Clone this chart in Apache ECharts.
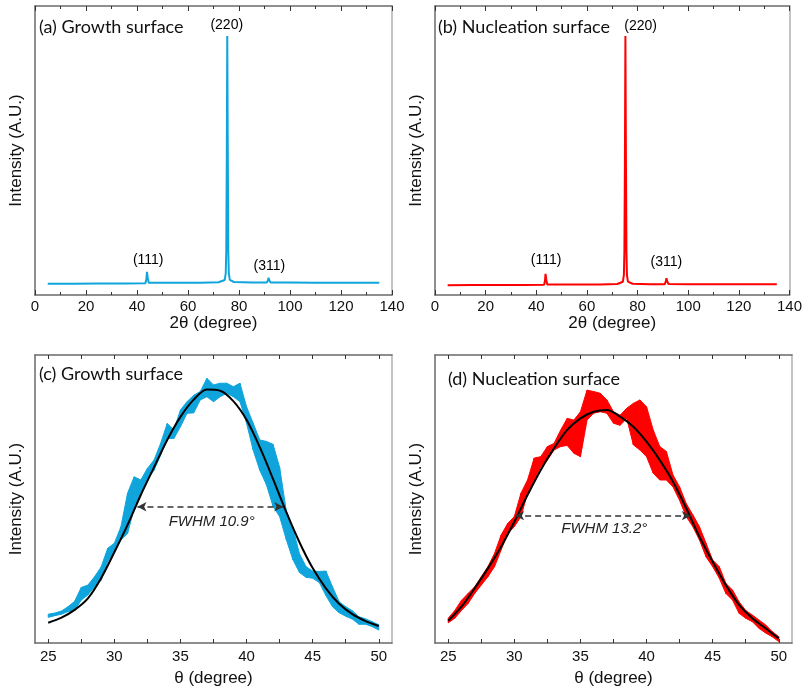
<!DOCTYPE html>
<html><head><meta charset="utf-8">
<script src="https://cdn.jsdelivr.net/npm/echarts@6/dist/echarts.min.js"></script>
<style>html,body{margin:0;padding:0;background:#fff}#c{width:805px;height:691px}</style>
</head><body><div id="c"></div>
<script>
// ---------- data ----------
// (a) XRD, growth surface
var xrdTwoThetaA = [5,15,25,35,43.3,43.7,43.9,44.2,44.6,55,65,72,74.4,74.8,75.0,75.2,75.4,75.6,75.8,76.0,76.4,78,85,90.9,91.4,91.6,91.9,92.4,100,110,120,135];
var xrdIntensityA = [3.9,3.9,4.0,4.0,4.1,5.6,8.0,6.0,4.2,4.2,4.2,4.4,5.2,7.5,15,45,89.6,50,15,7.5,5.2,4.5,4.3,4.3,5.2,6.0,5.0,4.3,4.3,4.2,4.2,4.2];
// (b) XRD, nucleation surface
var xrdTwoThetaB = [5,15,25,35,43.1,43.45,43.65,43.95,44.35,55,65,72,74.2,74.6,74.8,75.0,75.2,75.4,75.6,75.8,76.2,78,85,90.7,91.2,91.4,91.7,92.2,100,110,120,135];
var xrdIntensityB = [3.4,3.45,3.5,3.5,3.55,5.0,7.3,5.3,3.6,3.6,3.6,3.8,4.6,7,15,45,89.6,48,15,7,4.6,3.9,3.7,3.7,4.8,5.8,4.8,3.8,3.7,3.7,3.7,3.7];
var peakNames = ['(111)','(220)','(311)'];
var peakLabelA = [[44.4,12.1],[75.2,93.4],[91.9,10.1]];
var peakLabelB = [[43.9,12.1],[81.2,93.1],[91.4,11.2]];

// rocking curves, theta grid
var theta = [25,25.5,26,26.5,27,27.5,28,28.5,29,29.5,30,30.5,31,31.5,32,32.5,33,33.5,34,34.5,35,35.5,36,36.5,37,37.5,38,38.5,39,39.5,40,40.5,41,41.5,42,42.5,43,43.5,44,44.5,45,45.5,46,46.5,47,47.5,48,48.5,49,49.5,50];
// (c) measured envelope (low / high)
var lowC  = [8.9,9.5,10.0,10.9,11.3,14.9,16.7,19.5,21.8,28.3,31.7,35.8,38,46.8,51.4,56.6,60,65.2,71,71,75.1,79.8,79.9,84.4,85.5,83.8,85.5,86.7,85.5,83.8,76.3,67,60,55,47.5,43.9,36,29,24.5,22.8,22.5,21,16.5,12.6,10.5,9.3,8.3,6.5,6.5,5.7,4.5];
var highC = [10.0,10.4,11.1,12.6,14.5,19.3,20.1,23,26.4,32.9,34.6,40.4,52,57.7,56.6,60.6,63.5,69.3,76.2,74,80.9,83.8,86,87.3,91.9,89.6,90.2,90.2,89,90.2,82,76.3,70.5,70,69,61,46,40,31,26.5,25,24.8,25,19.5,14.3,12.6,11.2,9.1,8.4,7.4,6.3];
// (d) measured envelope (low / high)
var lowD  = [7.0,8.6,11.3,13.7,17.2,20.1,23,26.5,32.3,38,40.4,43.9,52,56.6,61.2,63.5,67,68.2,68.6,65.9,64.7,77.4,79.8,80.3,79.8,76.3,75.6,78,68.8,67,64.7,59,56.6,56.6,54.2,49.5,43.9,40.4,35.8,29.9,26.5,22.5,17.2,14.9,10.3,8.6,7.4,5.1,3.5,2.2,0.5];
var highD = [8.6,11.3,14.8,17.2,19.5,23,26.5,31.1,37.5,41.5,43.9,52,56.6,64.2,64.7,68.2,69.3,73.9,78,77.4,80.3,87.8,87.3,86.7,84.4,80.3,79.1,81.5,83.2,84.4,82,74,68.2,66.5,58.3,54.2,48.4,44.5,40.4,34.6,28.8,26.5,20.7,18.4,14.3,11.3,9.7,8,6.3,4,2.2];
// fits
var fitTheta = [25,26,27,28,29,30,31,32,33,34,35,36,37,38,39,40,41,42,43,44,45,46,47,48,49,50];
var fitC = [7.05,8.8,11.5,15.5,22.5,31.5,41,51.4,61,70.5,78.5,84.5,88,87.6,84,77.5,68,57,45.5,35,26,19,13.6,10,7.6,5.9];
var fitD = [7.7,12.6,19,25.9,33.4,42.1,51.4,60.1,67.6,74,78,80.3,80.9,78.6,75.1,69.9,63.5,56,46.8,36.9,28.2,20.1,13.2,8.6,5.1,1.6];
// FWHM annotations: [theta start, theta end, level]
var fwhmC = [31.75, 42.77, 47.3];
var fwhmD = [30.06, 43.35, 44.2];
var fwhmTextC = 'FWHM 10.9°', fwhmTextD = 'FWHM 13.2°';
var fwhmTextPosC = [37.36, 42.1];
var fwhmTextPosD = [36.8, 39.6];

var xLabelsBottom = [25,30,35,40,45,50];
var xTicksBottom = [25,27.5,30,32.5,35,37.5,40,42.5,45,47.5,50];
var titles = ['(a) Growth surface','(b) Nucleation surface','(c) Growth surface','(d) Nucleation surface'];

// ---------- styles ----------
var BLUE = '#0fa5dc', RED = '#ff0000';
var FRAME = '#6a6a6a';
var TXT = '#111';
var FONT = 'Liberation Sans';

function zip(a,b){ return a.map(function(v,i){ return [v,b[i]]; }); }

var grids = [
  {left:35, top:6, width:357, height:289},
  {left:435, top:6, width:357, height:289},
  {left:35, top:355, width:357, height:288},
  {left:435, top:355, width:357, height:288}
];

var xAxes = [], yAxes = [];
grids.forEach(function(g, k){
  var top = k < 2;
  var base = {
    gridIndex:k, type:'value',
    min: top ? 0 : 24, max: top ? 140 : 51,
    splitLine:{show:false},
    axisLine:{show:true, onZero:false, lineStyle:{color:FRAME, width:1.5}},
    axisTick:{show:true, inside:true, length:5, lineStyle:{color:'#333', width:1}},
  };
  if (top) {
    base.interval = 20;
    base.minorTick = {show:true, splitNumber:2, length:3, lineStyle:{color:'#333', width:1}};
  } else {
    base.axisTick.customValues = xTicksBottom;
    base.axisTick.length = 4;
  }
  var bottomAx = Object.assign({}, base, {
    position:'bottom',
    axisLabel: Object.assign({show:true, fontSize:15, color:TXT, fontFamily:FONT, margin: top ? 4 : 6},
                             top ? {} : {customValues: xLabelsBottom}),
    name: top ? '2θ (degree)' : 'θ (degree)',
    nameLocation:'middle', nameGap: top ? 18 : 27,
    nameTextStyle:{fontSize:17, color:TXT, fontFamily:FONT}
  });
  var topAx = Object.assign({}, base, {
    position:'top', axisLabel:{show:false}
  });
  xAxes.push(bottomAx, topAx);
  yAxes.push({
    gridIndex:k, type:'value', min:0, max:100, position:'left',
    splitLine:{show:false}, axisTick:{show:false}, axisLabel:{show:false},
    axisLine:{show:true, onZero:false, lineStyle:{color:FRAME, width:1.5}},
    name:'Intensity (A.U.)', nameLocation:'middle', nameGap:10,
    nameTextStyle:{fontSize:17, color:TXT, fontFamily:FONT}
  }, {
    gridIndex:k, type:'value', min:0, max:100, position:'right',
    splitLine:{show:false}, axisTick:{show:false}, axisLabel:{show:false},
    axisLine:{show:true, onZero:false, lineStyle:{color:'#b0b0b0', width:1.5}}
  });
});

function labelSeries(k, pts, names, extra){
  return {
    type:'scatter', xAxisIndex:2*k, yAxisIndex:2*k, symbol:'circle', symbolSize:1,
    itemStyle:{color:'#fff', opacity:0}, silent:true, z:5,
    data: pts.map(function(p,i){ return {value:p, label:{formatter:names[i]}}; }),
    label: Object.assign({show:true, position:'inside', fontSize:14, color:'#000', opacity:1,
      textBorderWidth:0, fontFamily:FONT}, extra||{})
  };
}

// band between low and high envelope, drawn as quads through the axis scales
function bandSeries(k, lo, hi, color){
  var segs = [];
  for (var i = 0; i < theta.length - 1; i++) {
    segs.push([theta[i], lo[i], hi[i], theta[i+1], lo[i+1], hi[i+1]]);
  }
  return {
    type:'custom', xAxisIndex:2*k, yAxisIndex:2*k, silent:true, z:2,
    data: segs,
    encode:{x:[0,3], y:[1,2,4,5]},
    renderItem: function(params, api){
      var p1 = api.coord([api.value(0), api.value(1)]);
      var p2 = api.coord([api.value(3), api.value(4)]);
      var p3 = api.coord([api.value(3), api.value(5)]);
      var p4 = api.coord([api.value(0), api.value(2)]);
      return {type:'polygon', shape:{points:[p1,p2,p3,p4]},
        style:{fill:color, stroke:color, lineWidth:1}};
    }
  };
}

function fitSeries(k, fit, fw){
  return {
    type:'line', xAxisIndex:2*k, yAxisIndex:2*k, symbol:'none', smooth:0.3,
    data: zip(fitTheta, fit), lineStyle:{color:'#000', width:2}, z:4, silent:true,
    markLine:{
      silent:true, symbol:['arrow','arrow'], symbolSize:[7,9],
      lineStyle:{type:[6,4], color:'#333', width:1.5},
      label:{show:false},
      data:[[{coord:[fw[0], fw[2]]},{coord:[fw[1], fw[2]]}]]
    }
  };
}

var series = [
  {type:'line', xAxisIndex:0, yAxisIndex:0, symbol:'none', data:zip(xrdTwoThetaA, xrdIntensityA),
   lineStyle:{color:BLUE, width:2}, silent:true},
  {type:'line', xAxisIndex:2, yAxisIndex:2, symbol:'none', data:zip(xrdTwoThetaB, xrdIntensityB),
   lineStyle:{color:RED, width:2}, silent:true},
  labelSeries(0, peakLabelA, peakNames),
  labelSeries(1, peakLabelB, peakNames),
  bandSeries(2, lowC, highC, BLUE),
  bandSeries(3, lowD, highD, RED),
  fitSeries(2, fitC, fwhmC),
  fitSeries(3, fitD, fwhmD),
  labelSeries(2, [fwhmTextPosC], [fwhmTextC], {fontSize:15, fontStyle:'italic', color:'#222'}),
  labelSeries(3, [fwhmTextPosD], [fwhmTextD], {fontSize:15, fontStyle:'italic', color:'#222'})
];

var titlePos = [[39,18],[438,18],[39,365],[448,370]];
var option = {
  animation:false,
  backgroundColor:'#fff',
  title: titles.map(function(t,i){
    return {text:t, left:titlePos[i][0], top:titlePos[i][1], padding:0,
      textStyle:{fontFamily:'Lato', fontSize:18, fontWeight:'normal', color:TXT}};
  }),
  grid: grids,
  xAxis: xAxes,
  yAxis: yAxes,
  series: series
};
var chart = echarts.init(document.getElementById('c'), null, {renderer:'canvas'});
chart.setOption(option);
</script></body></html>
